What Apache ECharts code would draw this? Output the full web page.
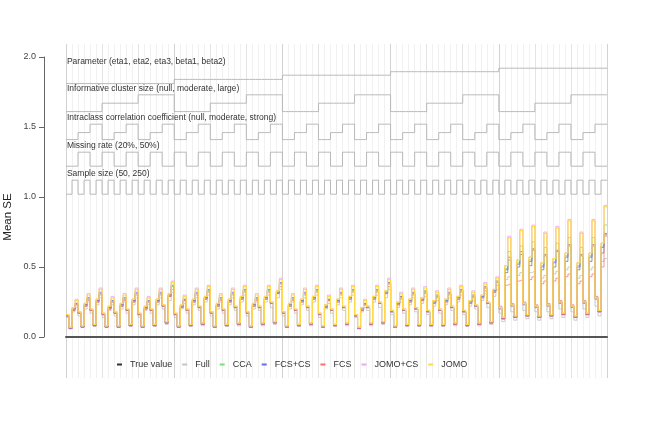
<!DOCTYPE html>
<html>
<head>
<meta charset="utf-8">
<script src="https://cdn.jsdelivr.net/npm/echarts@6/dist/echarts.min.js"></script>
<style>
html, body { margin: 0; padding: 0; background: #fff; }
#chart { width: 649px; height: 433px; }
</style>
</head>
<body>
<div id="chart"></div>
<script>
// mean SE per scenario, 180 scenarios (one row per parameter)
var trueValue = [
  .15,.06,.19,.23, .17,.07,.22,.27, .19,.08,.25,.31, .16,.07,.20,.25, .17,.07,.22,.27, .19,.08,.25,.31, .16,.07,.20,.25, .19,.08,.25,.31, .22,.10,.29,.36,
  .16,.07,.21,.26, .19,.08,.25,.31, .21,.09,.27,.33, .17,.07,.22,.27, .19,.08,.25,.31, .21,.09,.27,.33, .17,.07,.22,.27, .21,.09,.27,.33, .24,.10,.31,.38,
  .17,.07,.22,.27, .19,.08,.25,.31, .21,.09,.27,.33, .16,.07,.21,.26, .19,.08,.25,.31, .21,.09,.27,.33, .15,.06,.19,.23, .21,.09,.27,.33, .24,.10,.31,.38,
  .18,.07,.23,.28, .19,.08,.25,.31, .20,.08,.26,.32, .18,.08,.24,.29, .19,.08,.25,.31, .21,.09,.27,.33, .18,.08,.24,.29, .22,.09,.28,.35, .24,.10,.32,.39,
  .20,.13,.46,.55, .22,.14,.50,.59, .23,.15,.51,.62, .21,.14,.48,.58, .22,.15,.50,.61, .24,.16,.54,.65, .21,.14,.48,.58, .24,.16,.54,.65, .27,.18,.60,.73
]
var full = [
  .14,.06,.18,.21, .15,.07,.20,.25, .17,.08,.23,.28, .14,.07,.19,.23, .15,.07,.20,.25, .17,.08,.23,.28, .14,.07,.19,.23, .17,.08,.23,.28, .20,.09,.26,.32,
  .14,.07,.20,.24, .17,.08,.23,.28, .19,.08,.25,.30, .15,.07,.20,.25, .17,.08,.23,.28, .19,.08,.25,.30, .15,.07,.20,.25, .19,.08,.25,.30, .21,.09,.28,.34,
  .15,.07,.20,.25, .17,.08,.23,.28, .19,.08,.25,.30, .14,.07,.20,.24, .17,.08,.23,.28, .19,.08,.25,.30, .14,.06,.18,.21, .19,.08,.25,.30, .21,.09,.28,.34,
  .16,.07,.21,.25, .17,.08,.23,.28, .18,.08,.24,.29, .16,.08,.22,.26, .17,.08,.23,.28, .19,.08,.25,.30, .16,.08,.22,.26, .20,.08,.26,.31, .21,.09,.29,.34,
  .17,.11,.41,.43, .18,.12,.44,.46, .19,.13,.46,.47, .18,.12,.42,.44, .18,.13,.45,.47, .20,.14,.48,.50, .18,.12,.42,.44, .20,.14,.48,.50, .22,.15,.54,.56
]
var cca = [
  .15,.07,.20,.24, .17,.08,.23,.28, .19,.09,.26,.31, .16,.08,.21,.26, .17,.08,.23,.28, .19,.09,.26,.31, .16,.08,.21,.26, .19,.09,.26,.31, .22,.11,.30,.36,
  .16,.08,.22,.27, .19,.09,.26,.31, .21,.10,.28,.33, .17,.08,.23,.28, .19,.09,.26,.31, .21,.10,.28,.33, .17,.08,.23,.28, .21,.10,.28,.33, .24,.11,.32,.38,
  .17,.08,.23,.28, .19,.09,.26,.31, .21,.10,.28,.33, .16,.08,.22,.27, .19,.09,.26,.31, .21,.10,.28,.33, .15,.07,.20,.24, .21,.10,.28,.33, .24,.11,.32,.38,
  .18,.08,.24,.29, .19,.09,.26,.31, .20,.09,.27,.32, .18,.09,.25,.29, .19,.09,.26,.31, .21,.10,.28,.33, .18,.09,.25,.29, .22,.10,.29,.35, .24,.11,.33,.39,
  .21,.14,.49,.61, .23,.15,.53,.65, .24,.16,.55,.68, .22,.15,.51,.64, .23,.16,.54,.67, .25,.17,.58,.71, .22,.15,.51,.64, .25,.17,.58,.71, .28,.19,.65,.80
]
var fcsCs = [
  .15,.06,.20,.24, .17,.07,.23,.28, .19,.08,.26,.32, .16,.07,.21,.26, .17,.07,.23,.28, .19,.08,.26,.32, .16,.07,.21,.26, .19,.08,.26,.32, .22,.10,.30,.37,
  .16,.07,.22,.27, .19,.08,.26,.32, .21,.09,.28,.34, .17,.07,.23,.28, .19,.08,.26,.32, .21,.09,.28,.34, .17,.07,.23,.28, .21,.09,.28,.34, .24,.10,.32,.39,
  .17,.07,.23,.28, .19,.08,.26,.32, .21,.09,.28,.34, .16,.07,.22,.27, .19,.08,.26,.32, .21,.09,.28,.34, .15,.06,.20,.24, .21,.09,.28,.34, .24,.10,.32,.39,
  .18,.07,.24,.29, .19,.08,.26,.32, .20,.08,.27,.33, .18,.08,.25,.30, .19,.08,.26,.32, .21,.09,.28,.34, .18,.08,.25,.30, .22,.09,.29,.36, .24,.10,.33,.40,
  .21,.13,.48,.57, .23,.14,.52,.61, .24,.15,.54,.63, .22,.14,.50,.59, .23,.15,.53,.62, .25,.16,.57,.66, .22,.14,.50,.59, .25,.16,.57,.66, .28,.18,.64,.74
]
var fcs = [
  .15,.06,.19,.23, .17,.07,.22,.26, .19,.08,.25,.30, .16,.07,.20,.25, .17,.07,.22,.26, .19,.08,.25,.30, .16,.07,.20,.25, .19,.08,.25,.30, .22,.10,.29,.34,
  .16,.07,.21,.26, .19,.08,.25,.30, .21,.09,.27,.32, .17,.07,.22,.26, .19,.08,.25,.30, .21,.09,.27,.32, .17,.07,.22,.26, .21,.09,.27,.32, .24,.10,.31,.36,
  .17,.07,.22,.26, .19,.08,.25,.30, .21,.09,.27,.32, .16,.07,.21,.26, .19,.08,.25,.30, .21,.09,.27,.32, .15,.06,.19,.23, .21,.09,.27,.32, .24,.10,.31,.36,
  .18,.07,.23,.27, .19,.08,.25,.30, .20,.08,.26,.31, .18,.08,.24,.28, .19,.08,.25,.30, .21,.09,.27,.32, .18,.08,.24,.28, .22,.09,.28,.33, .24,.10,.32,.37,
  .22,.13,.37,.38, .24,.14,.40,.41, .25,.15,.41,.43, .23,.14,.38,.40, .24,.15,.40,.42, .26,.16,.43,.45, .23,.14,.38,.40, .26,.16,.43,.45, .29,.18,.50,.72
]
var jomoCs = [
  .16,.07,.21,.27, .18,.08,.24,.31, .20,.09,.27,.35, .17,.08,.22,.29, .18,.08,.24,.31, .20,.09,.27,.35, .17,.08,.22,.29, .20,.09,.27,.35, .23,.11,.31,.40,
  .17,.08,.23,.30, .20,.09,.27,.35, .22,.10,.29,.37, .18,.08,.24,.31, .20,.09,.27,.35, .22,.10,.29,.37, .18,.08,.24,.31, .22,.10,.29,.37, .25,.11,.33,.42,
  .18,.08,.24,.31, .20,.09,.27,.35, .22,.10,.29,.37, .17,.08,.23,.30, .20,.09,.27,.35, .22,.10,.29,.37, .16,.07,.21,.27, .22,.10,.29,.37, .25,.11,.33,.42,
  .19,.08,.25,.32, .20,.09,.27,.35, .21,.09,.28,.36, .19,.09,.26,.33, .20,.09,.27,.35, .22,.10,.29,.37, .19,.09,.26,.33, .23,.10,.30,.39, .25,.11,.34,.43,
  .21,.14,.51,.72, .23,.15,.55,.77, .24,.16,.57,.80, .22,.15,.53,.75, .23,.16,.56,.79, .25,.17,.60,.84, .22,.15,.53,.75, .25,.17,.60,.84, .28,.19,.67,.94
]
var jomo = [
  .16,.07,.21,.26, .18,.08,.24,.30, .20,.09,.27,.34, .17,.08,.22,.28, .18,.08,.24,.30, .20,.09,.27,.34, .17,.08,.22,.28, .20,.09,.27,.34, .23,.11,.31,.39,
  .17,.08,.23,.29, .20,.09,.27,.34, .22,.10,.29,.36, .18,.08,.24,.30, .20,.09,.27,.34, .22,.10,.29,.36, .18,.08,.24,.30, .22,.10,.29,.36, .25,.11,.33,.41,
  .18,.08,.24,.30, .20,.09,.27,.34, .22,.10,.29,.36, .17,.08,.23,.29, .20,.09,.27,.34, .22,.10,.29,.36, .16,.07,.21,.26, .22,.10,.29,.36, .25,.11,.33,.41,
  .19,.08,.25,.31, .20,.09,.27,.34, .21,.09,.28,.35, .19,.09,.26,.32, .20,.09,.27,.34, .22,.10,.29,.36, .19,.09,.26,.32, .23,.10,.30,.38, .25,.11,.34,.42,
  .21,.14,.51,.71, .23,.15,.55,.76, .24,.16,.57,.79, .22,.15,.53,.74, .23,.16,.56,.78, .25,.17,.60,.83, .22,.15,.53,.74, .25,.17,.60,.83, .28,.19,.67,.93
]

var methodNames = ['True value', 'Full', 'CCA', 'FCS+CS', 'FCS', 'JOMO+CS', 'JOMO']
var methodValues = [trueValue, full, cca, fcsCs, fcs, jomoCs, jomo]
var methodColors = ['#333333', '#c4c4c4', '#77e077', '#6a6aee', '#ff6a6a', '#eea6ee', '#ffd94a']
var methodOpacity = [0.5, 0.85, 0.85, 0.8, 0.7, 0.8, 1]

// nested design drawn above the data (reference lines in y units)
var factorNames = [
  'Parameter (eta1, eta2, eta3, beta1, beta2)',
  'Informative cluster size (null, moderate, large)',
  'Intraclass correlation coefficient (null, moderate, strong)',
  'Missing rate (20%, 50%)',
  'Sample size (50, 250)'
]
var factorLevels = [
  [1.81, 1.84, 1.87, 1.895, 1.92],
  [1.61, 1.67, 1.73],
  [1.41, 1.46, 1.52],
  [1.22, 1.32],
  [1.02, 1.12]
]
var factorRun = [36, 12, 4, 4, 2]   // scenarios per level step
var yTicks = ['0.0', '0.5', '1.0', '1.5', '2.0']
var nScen = jomo.length

function stepData(vals) {
  var d = vals.map(function (v, i) { return [i, v] })
  d.push([vals.length, vals[vals.length - 1]])
  return d
}

var chart = echarts.init(document.getElementById('chart'))
var font = 'Liberation Sans, Arial, sans-serif'

var series = []

// design lines
factorNames.forEach(function (name, f) {
  var lv = factorLevels[f]
  var vals = []
  for (var i = 0; i < nScen; i++) {
    vals.push(lv[Math.floor(i / factorRun[f]) % lv.length])
  }
  series.push({
    type: 'line',
    name: name,
    xAxisIndex: 0,
    yAxisIndex: 0,
    step: 'end',
    symbol: 'none',
    silent: true,
    data: stepData(vals),
    lineStyle: { color: '#b9b9b9', width: 1 },
    markPoint: {
      symbol: 'circle',
      symbolSize: 0,
      silent: true,
      data: [{ coord: [0.3, Math.max.apply(null, lv) + 0.046] }],
      label: {
        show: true,
        position: 'right',
        distance: 0,
        formatter: name,
        color: '#333',
        fontSize: 8.5,
        fontFamily: font
      }
    }
  })
})

// estimates
methodNames.forEach(function (name, m) {
  series.push({
    type: 'line',
    name: name,
    xAxisIndex: 0,
    yAxisIndex: 0,
    step: 'end',
    symbol: 'none',
    data: stepData(methodValues[m]),
    itemStyle: { color: methodColors[m] },
    lineStyle: { color: methodColors[m], width: m === 6 ? 1.2 : 1, opacity: methodOpacity[m] }
  })
})

var option = {
  backgroundColor: '#fff',
  animation: false,
  grid: [
    { left: 66, right: 42, top: 57, bottom: 96 },
    { left: 66, right: 42, top: 44, bottom: 55 }
  ],
  xAxis: [
    {
      gridIndex: 0, type: 'value', min: 0, max: nScen,
      axisLine: { show: true, onZero: false, lineStyle: { color: '#555', width: 2 } },
      axisTick: { show: false }, axisLabel: { show: false }, splitLine: { show: false }
    },
    {
      gridIndex: 1, type: 'value', min: 0, max: nScen, interval: 2,
      axisLine: { show: false }, axisTick: { show: false }, axisLabel: { show: false },
      splitLine: { show: true, lineStyle: { color: '#f1f1f1', width: 1 } }
    },
    {
      gridIndex: 1, type: 'value', min: 0, max: nScen, interval: 12,
      axisLine: { show: false }, axisTick: { show: false }, axisLabel: { show: false },
      splitLine: { show: true, lineStyle: { color: '#e4e4e4', width: 1 } }
    },
    {
      gridIndex: 1, type: 'value', min: 0, max: nScen, interval: 36,
      axisLine: { show: false }, axisTick: { show: false }, axisLabel: { show: false },
      splitLine: { show: true, lineStyle: { color: '#d2d2d2', width: 1 } }
    }
  ],
  yAxis: [
    {
      gridIndex: 0, type: 'value', min: 0, max: 2, interval: 0.5,
      offset: 22,
      axisLine: { show: true, onZero: false, lineStyle: { color: '#666', width: 1 } },
      axisTick: { show: true, length: 5, lineStyle: { color: '#666' } },
      axisLabel: {
        margin: 8, color: '#444', fontSize: 9, fontFamily: font,
        formatter: function (v) { return yTicks[Math.round(v / 0.5)] }
      },
      splitLine: { show: false }
    },
    {
      gridIndex: 1, type: 'value', min: 0, max: 1, show: false
    }
  ],
  legend: {
    left: 112,
    top: 355,
    icon: 'rect',
    itemWidth: 5,
    itemHeight: 2,
    itemGap: 10,
    data: methodNames,
    textStyle: {
      color: '#333', fontSize: 9, fontFamily: font,
      width: 47, padding: [0, 0, 0, 3]
    }
  },
  graphic: [
    {
      type: 'text',
      x: 8, y: 217,
      rotation: Math.PI / 2,
      style: {
        text: 'Mean SE', fill: '#222', fontSize: 11.5, fontFamily: font,
        align: 'center', verticalAlign: 'middle'
      }
    }
  ],
  series: series
}

chart.setOption(option)
</script>
</body>
</html>
